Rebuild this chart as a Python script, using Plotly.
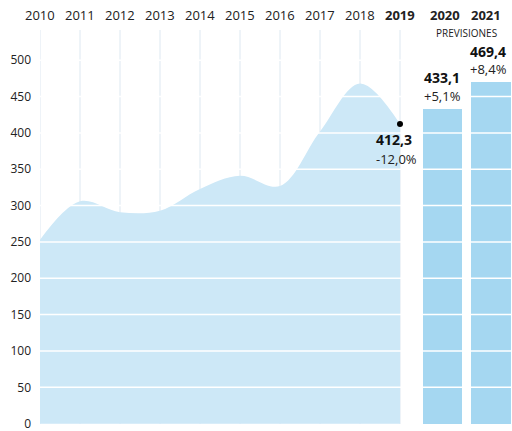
import plotly.graph_objects as go

# ---- data ----
years = [2010, 2011, 2012, 2013, 2014, 2015, 2016, 2017, 2018, 2019]
values = [253, 306, 291, 293, 323, 341, 327, 402, 468, 412.3]
forecast_years = [2020, 2021]
forecast_values = [433.1, 469.4]
forecast_changes = ["+5,1%", "+8,4%"]
last_value_label = "412,3"
last_change_label = "-12,0%"
y_ticks = [0, 50, 100, 150, 200, 250, 300, 350, 400, 450, 500]

# ---- layout constants ----
bar_offsets = [0.055, 0.275]
label_offsets = [0.125, 0.15]
area_color = "#cde8f7"
bar_color = "#a5d7f1"
text_color = "#222222"
FONT = "Open Sans"

fig = go.Figure()

fig.add_trace(go.Scatter(
    x=years, y=values, mode="lines", line=dict(width=0, shape="spline", smoothing=1.0),
    fill="tozeroy", fillcolor=area_color, hoverinfo="skip", showlegend=False))

bar_x = [fy + o for fy, o in zip(forecast_years, bar_offsets)]
fig.add_trace(go.Bar(
    x=bar_x, y=forecast_values, width=[0.975, 1.0], marker=dict(color=bar_color, line=dict(width=0)),
    showlegend=False))

fig.add_trace(go.Scatter(
    x=[years[-1]], y=[values[-1]], mode="markers",
    marker=dict(color="black", size=6), showlegend=False))

shapes = []
for yv in years:
    shapes.append(dict(type="line", xref="x", yref="paper", x0=yv, x1=yv, y0=0, y1=1,
                       line=dict(color="#dde8f1", width=1), layer="below"))
for t in y_ticks[1:]:
    shapes.append(dict(type="line", xref="paper", yref="y", x0=0, x1=1, y0=t, y1=t,
                       line=dict(color="white", width=1.5), layer="above"))

annotations = []
# year labels along the top
tick_x = years + [fy + o for fy, o in zip(forecast_years, label_offsets)]
tick_text = [str(y) if y != 2019 else "<b>2019</b>" for y in years] + ["<b>%d</b>" % y for y in forecast_years]
for tx, tt in zip(tick_x, tick_text):
    annotations.append(dict(x=tx, y=1, xref="x", yref="paper", yshift=15, text=tt, showarrow=False,
                            font=dict(family=FONT, size=13, color=text_color),
                            xanchor="center", yanchor="middle"))
# last actual value
annotations.append(dict(x=years[-1] - 0.14, y=values[-1], xref="x", yref="y", yshift=-16,
                        text="<b>" + last_value_label + "</b>", showarrow=False,
                        font=dict(family=FONT, size=14, color="#111"), xanchor="center", yanchor="middle"))
annotations.append(dict(x=years[-1] - 0.08, y=values[-1], xref="x", yref="y", yshift=-35,
                        text=last_change_label, showarrow=False,
                        font=dict(family=FONT, size=13, color=text_color), xanchor="center", yanchor="middle"))
for bx, v, ch in zip(bar_x, forecast_values, forecast_changes):
    annotations.append(dict(x=bx - (0.07 if bx > 2021 else 0), y=v, xref="x", yref="y", yshift=31,
                            text="<b>" + f"{v:.1f}".replace(".", ",") + "</b>", showarrow=False,
                            font=dict(family=FONT, size=14, color="#111"), xanchor="center", yanchor="middle"))
    annotations.append(dict(x=bx - (0.07 if bx > 2021 else 0), y=v, xref="x", yref="y", yshift=13,
                            text=ch, showarrow=False,
                            font=dict(family=FONT, size=13, color=text_color), xanchor="center", yanchor="middle"))
annotations.append(dict(x=forecast_years[0] + 0.65, y=1, xref="x", yref="paper", yshift=-3,
                        text="PREVISIONES", showarrow=False,
                        font=dict(family=FONT, size=10, color=text_color), xanchor="center", yanchor="middle"))

fig.update_layout(
    width=512, height=431,
    margin=dict(l=40, r=0, t=30, b=7),
    plot_bgcolor="white", paper_bgcolor="white",
    shapes=shapes, annotations=annotations,
    bargap=0,
    xaxis=dict(range=[2010, 2021.8], showticklabels=False,
               showgrid=False, zeroline=False, showline=False, ticks="", fixedrange=True),
    yaxis=dict(range=[-0.5, 541.6], tickvals=y_ticks, showgrid=False, zeroline=False, showline=False,
               ticks="", tickfont=dict(family=FONT, size=12, color=text_color),
               ticklabelstandoff=8, ticklabeloverflow="allow", fixedrange=True),
    font=dict(family=FONT),
)

fig.write_html("out.html", config={"displayModeBar": False})
